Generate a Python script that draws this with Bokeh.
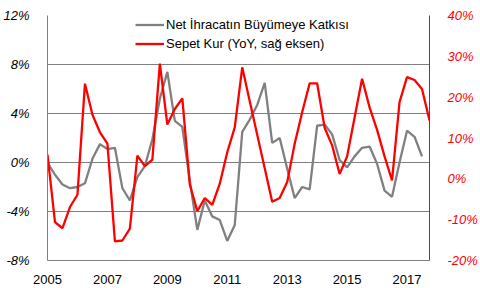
from bokeh.plotting import figure
from bokeh.models import Range1d, LinearAxis, FixedTicker, Legend, LegendItem
from bokeh.embed import file_html
from bokeh.resources import INLINE
import numpy as np

# ---- data (quarterly, 2005Q1 .. 2017Q4) ----
start_year = 2005
net_export = [0.0, -1.0, -1.8, -2.1, -2.0, -1.7, 0.3, 1.5, 1.1, 1.2, -2.1, -3.1,
              -1.2, -0.3, 1.9, 5.2, 7.4, 3.4, 2.9, -1.5, -5.5, -3.1, -4.4, -4.7,
              -6.4, -5.1, 2.5, 3.5, 4.7, 6.5, 1.6, 2.0, -0.5, -2.9, -2.0, -2.2,
              3.0, 3.1, 2.3, 0.2, -0.4, 0.5, 1.2, 1.3, -0.1, -2.3, -2.8, 0.0,
              2.6, 2.1, 0.5, float("nan")]
basket_fx = [5.9, -10.6, -12.1, -6.9, -3.9, 23.3, 15.7, 11.4, 8.6, -15.3, -15.1, -12.2,
             5.7, 3.1, 4.7, 28.2, 13.3, 17.1, 19.7, -1.4, -7.9, -4.7, -6.4, -1.2,
             6.5, 12.6, 27.3, 19.0, 10.8, 2.6, -5.6, -4.7, -0.8, 8.6, 16.3, 23.4,
             23.4, 12.5, 8.2, 1.2, 5.5, 15.0, 24.5, 17.5, 12.0, 5.5, -0.4, 18.8,
             24.9, 24.2, 22.0, 14.3]
x_ticks = [2005, 2007, 2009, 2011, 2013, 2015, 2017]
x_tick_labels = ["2005", "2007", "2009", "2011", "2013", "2015", "2017"]
left_ticks = [-8, -4, 0, 4, 8, 12]
left_tick_labels = ["-8%", "-4%", "0%", "4%", "8%", "12%"]
right_ticks = [-20, -10, 0, 10, 20, 30, 40]
right_tick_labels = ["-20%", "-10%", "0%", "10%", "20%", "30%", "40%"]
series_names = ["Net İhracatın Büyümeye Katkısı", "Sepet Kur (YoY, sağ eksen)"]

x = [start_year + i / 4 for i in range(len(basket_fx))]

FONT = "Liberation Sans"
GRAY = "#808080"
RED = "#FF0000"

p = figure(width=480, height=288, output_backend="svg", toolbar_location=None,
           x_range=Range1d(2005, 2017.75), y_range=Range1d(-8, 12),
           min_border_left=45, min_border_right=45, min_border_top=15,
           min_border_bottom=28, y_axis_location=None, x_axis_location=None)
p.outline_line_color = None
p.background_fill_color = "white"
p.border_fill_color = "white"
p.extra_y_ranges = {"right": Range1d(-20, 40)}

# axes
xa = LinearAxis(ticker=FixedTicker(ticks=x_ticks),
                major_label_overrides=dict(zip(x_ticks, x_tick_labels)))
ya = LinearAxis(ticker=FixedTicker(ticks=left_ticks),
                major_label_overrides=dict(zip(left_ticks, left_tick_labels)))
yr = LinearAxis(y_range_name="right", ticker=FixedTicker(ticks=right_ticks),
                major_label_overrides=dict(zip(right_ticks, right_tick_labels)))
for ax in (xa, ya, yr):
    ax.major_tick_line_color = None
    ax.minor_tick_line_color = None
    ax.major_label_text_font = FONT
    ax.major_label_text_font_size = "13px"
    ax.axis_line_width = 1
xa.axis_line_color = GRAY
xa.major_label_text_color = "#000000"
xa.major_label_standoff = 8
ya.axis_line_color = GRAY
ya.major_label_text_color = "#000000"
ya.major_label_text_font_style = "italic"
ya.major_label_standoff = 12
yr.axis_line_color = RED
yr.major_label_text_color = RED
yr.major_label_text_font_style = "italic"
yr.major_label_standoff = 12
p.add_layout(xa, "below")
p.add_layout(ya, "left")
p.add_layout(yr, "right")

p.xgrid.visible = False
p.ygrid.ticker = FixedTicker(ticks=left_ticks)
p.ygrid.grid_line_color = GRAY
p.ygrid.grid_line_width = 1

r1 = p.line(x[:len(net_export)], net_export, line_color=GRAY, line_width=2.3)
r2 = p.line(x, basket_fx, line_color=RED, line_width=2.3, y_range_name="right")

legend = Legend(items=[LegendItem(label=series_names[0], renderers=[r1]),
                       LegendItem(label=series_names[1], renderers=[r2])],
                location=(88, 207), padding=0, margin=0, spacing=0,
                glyph_width=29, glyph_height=19, label_height=19,
                label_standoff=2, background_fill_alpha=0,
                border_line_alpha=0, label_text_font=FONT,
                label_text_font_size="13px", label_text_color="#000000")
p.add_layout(legend, "center")

open("out.html", "w").write(file_html(p, INLINE))
